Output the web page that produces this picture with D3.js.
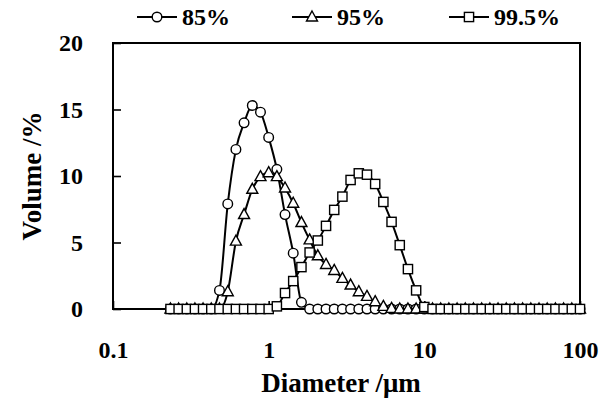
<!DOCTYPE html>
<html>
<head>
<meta charset="utf-8">
<script src="https://cdn.jsdelivr.net/npm/d3@7"></script>
<style>
  body { margin: 0; background: #fff; }
  text { font-family: "Liberation Serif", "Times New Roman", serif; font-weight: bold; fill: #000; }
</style>
</head>
<body>
<svg id="chart" width="600" height="398"></svg>
<script>
// particle size bins (um)
var diameters = [0.234, 0.264, 0.298, 0.336, 0.379, 0.428, 0.483, 0.546, 0.616, 0.695,
  0.785, 0.886, 1.000, 1.129, 1.274, 1.438, 1.624, 1.833, 2.069, 2.336,
  2.637, 2.976, 3.360, 3.793, 4.281, 4.833, 5.456, 6.159, 6.952, 7.848,
  8.859, 10.00, 11.29, 12.74, 14.38, 16.24, 18.33, 20.69, 23.36, 26.37,
  29.76, 33.60, 37.93, 42.81, 48.33, 54.56, 61.58, 69.52, 78.48, 88.59, 100.0];

var vol85 = [0, 0, 0, 0, 0, 0, 1.4, 7.9, 12.0, 14.0,
  15.3, 14.8, 12.9, 10.5, 7.1, 4.2, 0.5, 0, 0, 0,
  0, 0, 0, 0, 0, 0, 0, 0, 0, 0,
  0, 0, 0, 0, 0, 0, 0, 0, 0, 0,
  0, 0, 0, 0, 0, 0, 0, 0, 0, 0, 0];

var vol95 = [0, 0, 0, 0, 0, 0, 0, 1.3, 5.1, 7.1,
  9.0, 9.95, 10.25, 9.95, 9.1, 7.95, 6.5, 5.2, 4.0, 3.35,
  2.9, 2.3, 1.8, 1.3, 0.95, 0.55, 0.2, 0.05, 0, 0,
  0, 0, 0, 0, 0, 0, 0, 0, 0, 0,
  0, 0, 0, 0, 0, 0, 0, 0, 0, 0, 0];

var vol995 = [0, 0, 0, 0, 0, 0, 0, 0, 0, 0,
  0, 0, 0, 0.2, 1.2, 2.1, 3.15, 4.25, 5.15, 6.25,
  7.45, 8.45, 9.7, 10.2, 10.1, 9.4, 8.05, 6.55, 4.8, 3.0,
  1.4, 0.15, 0, 0, 0, 0, 0, 0, 0, 0,
  0, 0, 0, 0, 0, 0, 0, 0, 0, 0, 0];

var seriesNames = ["85%", "95%", "99.5%"];
var seriesShapes = ["circle", "triangle", "square"];
var xTicks = [0.1, 1, 10, 100];
var xTickLabels = ["0.1", "1", "10", "100"];
var yTicks = [0, 5, 10, 15, 20];

var svg = d3.select("#chart");
var plotLeft = 113, plotRight = 580, plotTop = 43, plotBottom = 309;

var x = d3.scaleLog().domain([0.1, 100]).range([plotLeft, plotRight]);
var y = d3.scaleLinear().domain([0, 20]).range([plotBottom, plotTop]);

// axes with inward ticks
svg.append("g")
  .attr("transform", `translate(${plotLeft},0)`)
  .call(d3.axisLeft(y).tickValues(yTicks).tickSizeInner(-8).tickSizeOuter(0).tickPadding(30))
  .call(g => g.select(".domain").remove())
  .call(g => g.selectAll("line").attr("stroke", "#000").attr("stroke-width", 1.6))
  .call(g => g.selectAll("text").style("font-size", "24px"));

svg.append("g")
  .attr("transform", `translate(0,${plotBottom})`)
  .call(d3.axisBottom(x).tickValues(xTicks).tickFormat((d, i) => xTickLabels[i])
    .tickSizeInner(-8).tickSizeOuter(0).tickPadding(32))
  .call(g => g.select(".domain").remove())
  .call(g => g.selectAll("line").attr("stroke", "#000").attr("stroke-width", 1.6))
  .call(g => g.selectAll("text").style("font-size", "24px"));

svg.append("rect")
  .attr("x", plotLeft).attr("y", plotTop)
  .attr("width", plotRight - plotLeft).attr("height", plotBottom - plotTop)
  .attr("fill", "none").attr("stroke", "#000").attr("stroke-width", 2);

// axis titles
svg.append("text")
  .attr("x", 341).attr("y", 392)
  .attr("text-anchor", "middle")
  .style("font-size", "27px")
  .text("Diameter /μm");

svg.append("text")
  .attr("transform", `translate(41,${(plotTop + plotBottom) / 2}) rotate(-90)`)
  .attr("text-anchor", "middle")
  .style("font-size", "27px")
  .text("Volume /%");

function drawMarker(g, shape, cx, cy) {
  if (shape == "circle") {
    g.append("circle").attr("cx", cx).attr("cy", cy).attr("r", 4.8);
  } else if (shape == "triangle") {
    g.append("path").attr("d", `M${cx},${cy - 6}L${cx + 5.5},${cy + 4}L${cx - 5.5},${cy + 4}Z`);
  } else {
    g.append("rect").attr("x", cx - 4.6).attr("y", cy - 4.6).attr("width", 9.2).attr("height", 9.2);
  }
}

var allSeries = [vol85, vol95, vol995];
var line = d3.line()
  .x((d, i) => x(diameters[i]))
  .y(d => y(d))
  .curve(d3.curveMonotoneX);

allSeries.forEach((vals, s) => {
  var g = svg.append("g");
  g.append("path")
    .attr("d", line(vals))
    .attr("fill", "none")
    .attr("stroke", "#000")
    .attr("stroke-width", 2);
  var mg = g.append("g").attr("fill", "#fff").attr("stroke", "#000").attr("stroke-width", 1.4);
  vals.forEach((v, i) => drawMarker(mg, seriesShapes[s], x(diameters[i]), y(v)));
});

// legend
var legendX = [137, 292, 449];
var legendY = 17;
seriesNames.forEach((name, s) => {
  var g = svg.append("g");
  g.append("line")
    .attr("x1", legendX[s]).attr("x2", legendX[s] + 40)
    .attr("y1", legendY).attr("y2", legendY)
    .attr("stroke", "#000").attr("stroke-width", 2);
  var mg = g.append("g").attr("fill", "#fff").attr("stroke", "#000").attr("stroke-width", 1.4);
  drawMarker(mg, seriesShapes[s], legendX[s] + 20, legendY);
  g.append("text")
    .attr("x", legendX[s] + 45).attr("y", legendY + 8)
    .style("font-size", "24px")
    .text(name);
});
</script>
</body>
</html>
